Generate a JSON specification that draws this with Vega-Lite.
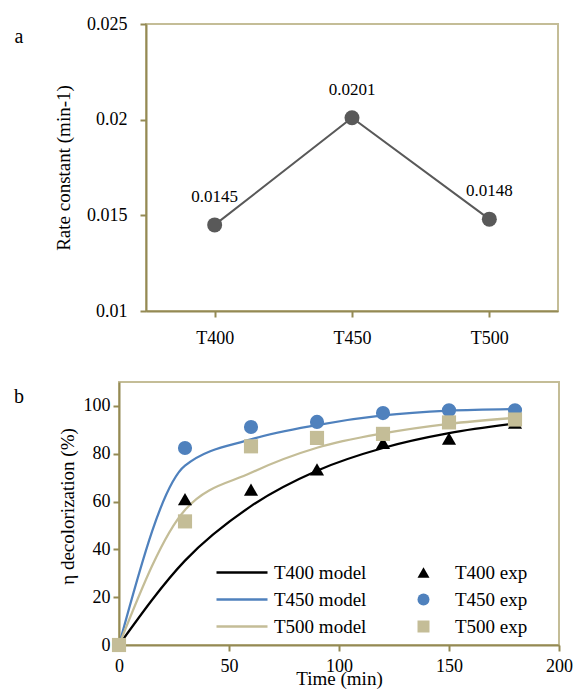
{
  "$schema": "https://vega.github.io/schema/vega-lite/v6.json",
  "padding": {"left": 5, "top": 14, "right": 0, "bottom": 0},
  "background": "white",
  "datasets": {
    "rate": [
      {"temp": "T400", "k": 0.0145},
      {"temp": "T450", "k": 0.0201},
      {"temp": "T500", "k": 0.0148}
    ],
    "model": [
      {"series": "T400 model", "t": 0, "v": 0},
      {"series": "T400 model", "t": 30, "v": 35.3},
      {"series": "T400 model", "t": 60, "v": 58.1},
      {"series": "T400 model", "t": 90, "v": 72.9},
      {"series": "T400 model", "t": 120, "v": 82.4},
      {"series": "T400 model", "t": 150, "v": 88.6},
      {"series": "T400 model", "t": 180, "v": 92.6},
      {"series": "T450 model", "t": 0, "v": 0},
      {"series": "T450 model", "t": 30, "v": 75},
      {"series": "T450 model", "t": 60, "v": 86},
      {"series": "T450 model", "t": 90, "v": 92},
      {"series": "T450 model", "t": 120, "v": 96},
      {"series": "T450 model", "t": 150, "v": 98},
      {"series": "T450 model", "t": 180, "v": 98.7},
      {"series": "T500 model", "t": 0, "v": 0},
      {"series": "T500 model", "t": 30, "v": 56.5},
      {"series": "T500 model", "t": 60, "v": 72},
      {"series": "T500 model", "t": 90, "v": 82.5},
      {"series": "T500 model", "t": 120, "v": 88.5},
      {"series": "T500 model", "t": 150, "v": 92.5},
      {"series": "T500 model", "t": 180, "v": 95}
    ],
    "exp": [
      {"series": "T400 exp", "t": 0, "v": 0},
      {"series": "T400 exp", "t": 30, "v": 61},
      {"series": "T400 exp", "t": 60, "v": 65},
      {"series": "T400 exp", "t": 90, "v": 73.5},
      {"series": "T400 exp", "t": 120, "v": 84.5},
      {"series": "T400 exp", "t": 150, "v": 86.3},
      {"series": "T400 exp", "t": 180, "v": 93},
      {"series": "T450 exp", "t": 0, "v": 0},
      {"series": "T450 exp", "t": 30, "v": 82.4},
      {"series": "T450 exp", "t": 60, "v": 91.2},
      {"series": "T450 exp", "t": 90, "v": 93.3},
      {"series": "T450 exp", "t": 120, "v": 97},
      {"series": "T450 exp", "t": 150, "v": 98.2},
      {"series": "T450 exp", "t": 180, "v": 98.2},
      {"series": "T500 exp", "t": 0, "v": 0},
      {"series": "T500 exp", "t": 30, "v": 51.7},
      {"series": "T500 exp", "t": 60, "v": 83.1},
      {"series": "T500 exp", "t": 90, "v": 86.6},
      {"series": "T500 exp", "t": 120, "v": 88.3},
      {"series": "T500 exp", "t": 150, "v": 93.1},
      {"series": "T500 exp", "t": 180, "v": 94.3}
    ]
  },
  "config": {
    "font": "Liberation Serif",
    "view": {"stroke": "#C4BD97", "strokeWidth": 2},
    "axis": {
      "domainColor": "#948A54", "domainWidth": 2,
      "tickColor": "#948A54", "tickWidth": 2, "tickSize": 6,
      "labelColor": "#000000", "labelFontSize": 18, "labelFont": "Liberation Serif",
      "titleColor": "#000000", "titleFontSize": 19, "titleFontWeight": "normal", "titleFont": "Liberation Serif",
      "grid": false, "labelFlush": false
    },
    "legend": {"labelFont": "Liberation Serif", "labelFontSize": 19, "labelColor": "#000000"},
    "text": {"font": "Liberation Serif", "color": "#000000"}
  },
  "spacing": 33,
  "resolve": {
    "scale": {"color": "independent", "shape": "independent", "stroke": "independent"},
    "legend": {"color": "independent", "shape": "independent", "stroke": "independent"}
  },
  "vconcat": [
    {
      "spacing": 20,
      "hconcat": [
        {
          "width": 28, "height": 25,
          "view": {"stroke": null},
          "data": {"values": [{"panel": "a"}]},
          "mark": {"type": "text", "fontSize": 20, "align": "center", "baseline": "middle"},
          "encoding": {"text": {"field": "panel", "type": "nominal"}}
        },
        {
          "width": 412, "height": 287,
          "data": {"name": "rate"},
          "encoding": {
            "x": {"field": "temp", "type": "nominal", "sort": null,
                  "scale": {"type": "point", "padding": 0.5},
                  "axis": {"title": null, "labelAngle": 0, "labelPadding": 12}},
            "y": {"field": "k", "type": "quantitative",
                  "scale": {"domain": [0.01, 0.025], "zero": false, "nice": false},
                  "axis": {"values": [0.01, 0.015, 0.02, 0.025], "format": ".3~f",
                           "title": "Rate constant (min-1)", "titleX": -83, "titleBaseline": "middle",
                           "labelPadding": 13}}
          },
          "layer": [
            {"mark": {"type": "line", "color": "#595959", "strokeWidth": 2}, "encoding": {}},
            {"mark": {"type": "point", "filled": true, "opacity": 1, "color": "#595959", "size": 225}},
            {"mark": {"type": "text", "dy": -23, "fontSize": 17, "baseline": "alphabetic", "align": "center"},
             "encoding": {"text": {"field": "k", "type": "quantitative", "format": ".4f"}}}
          ]
        }
      ]
    },
    {
      "spacing": 23,
      "resolve": {
        "scale": {"color": "independent", "shape": "independent", "stroke": "independent"},
        "legend": {"color": "independent", "shape": "independent", "stroke": "independent"}
      },
      "hconcat": [
        {
          "width": 28, "height": 29,
          "view": {"stroke": null},
          "data": {"values": [{"panel": "b"}]},
          "mark": {"type": "text", "fontSize": 20, "align": "center", "baseline": "middle"},
          "encoding": {"text": {"field": "panel", "type": "nominal"}}
        },
        {
          "width": 440, "height": 263,
          "layer": [
            {
              "data": {"name": "model"},
              "mark": {"type": "line", "strokeWidth": 2.25, "interpolate": "monotone"},
              "encoding": {
                "x": {"field": "t", "type": "quantitative",
                      "scale": {"domain": [0, 200], "nice": false},
                      "axis": {"values": [0, 50, 100, 150, 200], "title": "Time (min)", "titlePadding": -6, "labelPadding": 6}},
                "y": {"field": "v", "type": "quantitative",
                      "scale": {"domain": [0, 110], "nice": false},
                      "axis": {"values": [0, 20, 40, 60, 80, 100], "title": "η decolorization (%)",
                               "titleX": -52, "titleY": 124, "titleBaseline": "middle", "labelPadding": 3}},
                "stroke": {"field": "series", "type": "nominal",
                           "scale": {"domain": ["T400 model", "T450 model", "T500 model"], "range": ["#000000", "#4F81BD", "#C4BD97"]},
                           "legend": {"title": null, "orient": "none", "legendX": 133, "legendY": 181,
                                      "symbolType": "M-7.5,0H1", "symbolSize": 144, "symbolStrokeWidth": 2.5,
                                      "labelOffset": 3, "rowPadding": 7, "padding": 0}}
              }
            },
            {
              "data": {"name": "exp"},
              "mark": {"type": "point", "filled": true, "opacity": 1, "size": 200},
              "encoding": {
                "x": {"field": "t", "type": "quantitative"},
                "y": {"field": "v", "type": "quantitative"},
                "color": {"field": "series", "type": "nominal",
                          "scale": {"domain": ["T400 exp", "T450 exp", "T500 exp"], "range": ["#000000", "#4F81BD", "#C4BD97"]},
                          "legend": {"title": null, "orient": "none", "legendX": 295, "legendY": 181,
                                     "symbolSize": 144, "labelOffset": 22, "rowPadding": 7, "padding": 0}},
                "shape": {"field": "series", "type": "nominal",
                          "scale": {"domain": ["T400 exp", "T450 exp", "T500 exp"], "range": ["triangle-up", "circle", "square"]},
                          "legend": {"title": null, "orient": "none", "legendX": 295, "legendY": 181,
                                     "symbolSize": 144, "labelOffset": 22, "rowPadding": 7, "padding": 0}}
              }
            }
          ]
        }
      ]
    }
  ]
}
